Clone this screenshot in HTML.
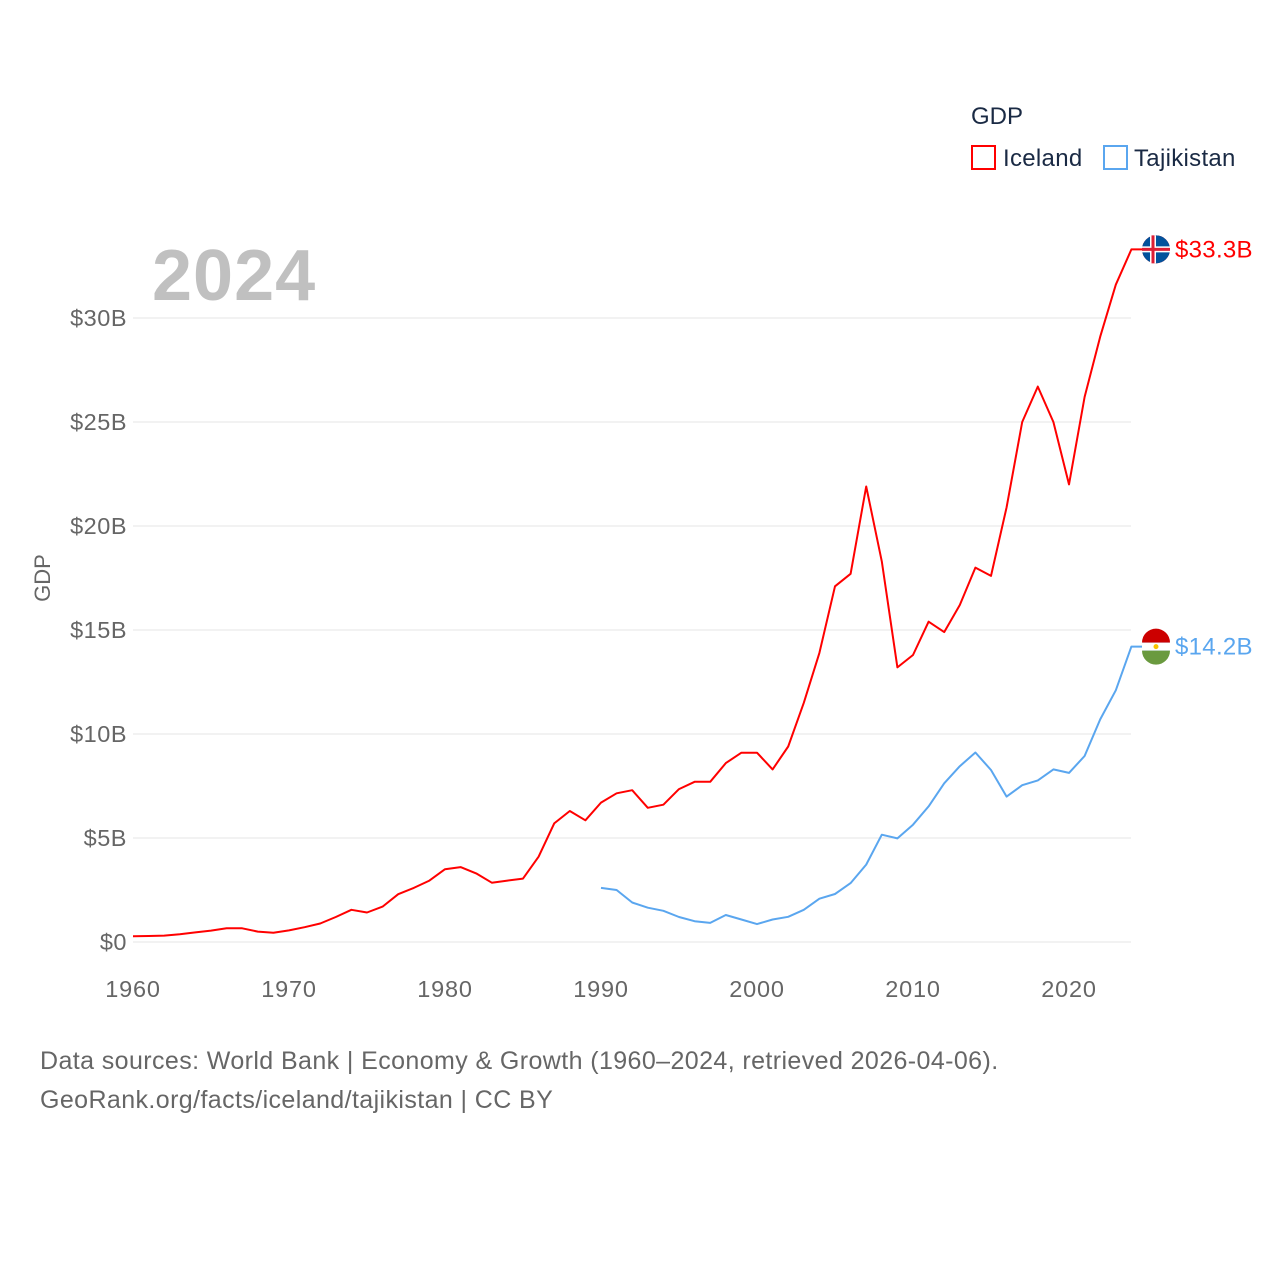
<!DOCTYPE html>
<html><head><meta charset="utf-8"><style>
html,body{margin:0;padding:0;background:#fff;}
svg{display:block;font-family:"Liberation Sans",sans-serif;}
</style></head><body>
<svg id="chart" width="1280" height="1280" viewBox="0 0 1280 1280">
<text x="971" y="124" font-size="24" fill="#1a2a44">GDP</text>
<g>
<rect x="972" y="146" width="23" height="23" fill="none" stroke="#ff0000" stroke-width="2"/>
<text x="1003" y="166" font-size="24" fill="#1a2a44" letter-spacing="0.3">Iceland</text></g>
<g>
<rect x="1104" y="146" width="23" height="23" fill="none" stroke="#5aa6ef" stroke-width="2"/>
<text x="1134" y="166" font-size="24" fill="#1a2a44" letter-spacing="0.3">Tajikistan</text></g>
<text x="152" y="300" font-size="72" font-weight="bold" fill="#c0c0c0" letter-spacing="1">2024</text>
<text transform="translate(50,578) rotate(-90)" text-anchor="middle" font-size="22" fill="#666">GDP</text>
<g id="grid"></g><g id="lines"></g>
<text x="40" y="1069" font-size="25" fill="#666" letter-spacing="0.4">Data sources: World Bank | Economy &amp; Growth (1960–2024, retrieved 2026-04-06).</text>
<text x="40" y="1108" font-size="25" fill="#666" letter-spacing="0.4">GeoRank.org/facts/iceland/tajikistan | CC BY</text>
</svg>
<script>
const yTicks=[0,5,10,15,20,25,30];
const xTicks=[1960,1970,1980,1990,2000,2010,2020];
const icelandYears=[];for(let y=1960;y<=2024;y++)icelandYears.push(y);
const icelandGdp=[0.28,0.29,0.31,0.37,0.46,0.55,0.66,0.66,0.50,0.44,0.56,0.71,0.89,1.2,1.55,1.42,1.7,2.3,2.6,2.95,3.5,3.6,3.3,2.85,2.95,3.05,4.1,5.7,6.3,5.85,6.7,7.15,7.3,6.45,6.6,7.35,7.7,7.7,8.6,9.1,9.1,8.3,9.4,11.5,13.9,17.1,17.7,21.9,18.3,13.2,13.8,15.4,14.9,16.2,18.0,17.6,20.9,25.0,26.7,25.0,22.0,26.2,29.1,31.6,33.3];
const tajikYears=[];for(let y=1990;y<=2024;y++)tajikYears.push(y);
const tajikGdp=[2.6,2.5,1.9,1.65,1.5,1.2,1.0,0.92,1.3,1.08,0.86,1.08,1.21,1.55,2.08,2.31,2.83,3.72,5.16,4.98,5.64,6.52,7.63,8.45,9.11,8.27,6.99,7.54,7.77,8.30,8.13,8.94,10.7,12.1,14.2];
const NS="http://www.w3.org/2000/svg";
const xs=y=>133+(y-1960)*15.6;
const ys=v=>942-v*20.8;
const grid=document.getElementById('grid'),lines=document.getElementById('lines');
function mk(tag,attrs,parent){const e=document.createElementNS(NS,tag);for(const k in attrs)e.setAttribute(k,attrs[k]);parent.appendChild(e);return e;}
yTicks.forEach(v=>{
 const l=mk('line',{x1:133,x2:1131,y1:ys(v),y2:ys(v),stroke:'#e6e6e6','stroke-width':1},grid);
 
 
 const t=mk('text',{x:127,y:ys(v)+8,'text-anchor':'end','font-size':23.5,fill:'#666','letter-spacing':0.5},grid);
 t.textContent='$'+v+(v?'B':'');
 
 
});
xTicks.forEach(y=>{
 const t=mk('text',{x:xs(y),y:997,'text-anchor':'middle','font-size':23.5,fill:'#666','letter-spacing':0.8},grid);
 t.textContent=y;
 
 
});
function series(years,vals,color,name){
 let d=years.map((y,i)=>(i?'L':'M')+xs(y).toFixed(1)+','+ys(vals[i]).toFixed(1)).join(' ');
 const last=vals[vals.length-1],ly=ys(last);
 d+=' L1142,'+ly.toFixed(1);
 const p=mk('path',{d:d,fill:'none',stroke:color,'stroke-width':2,'stroke-linejoin':'round'},lines);
 
 
 const c=mk('circle',{cx:1156,cy:ly,r:14,fill:color},lines);
 
 
 const t=mk('text',{x:1175,y:ly+8,'font-size':24,fill:color,'letter-spacing':0.3},lines);
 t.textContent='$'+last.toFixed(1)+'B';
 
 
 return ly;
}
const iy=series(icelandYears,icelandGdp,'#ff0000','iceland');
const ty=series(tajikYears,tajikGdp,'#5aa6ef','tajikistan');
mk('circle',{cx:1156,cy:iy,r:14,fill:'#02529c'},lines);
mk('rect',{x:1142,y:iy-3,width:28,height:6,fill:'#fff'},lines);
mk('rect',{x:1150,y:iy-14,width:6,height:28,fill:'#fff'},lines);
mk('rect',{x:1142,y:iy-1.5,width:28,height:3,fill:'#dc1e35'},lines);
mk('rect',{x:1151.5,y:iy-14,width:3,height:28,fill:'#dc1e35'},lines);
mk('path',{d:`M1142,${ty-4} A14,14 0 0 1 1170,${ty-4} Z`,fill:'#cc0000'},lines);
mk('rect',{x:1142,y:ty-4,width:28,height:8,fill:'#fff'},lines);
mk('path',{d:`M1142,${ty+4} A14,14 0 0 0 1170,${ty+4} Z`,fill:'#6a9a3f'},lines);
mk('circle',{cx:1156,cy:ty,r:2.5,fill:'#f8c300'},lines);
</script>
</body></html>
